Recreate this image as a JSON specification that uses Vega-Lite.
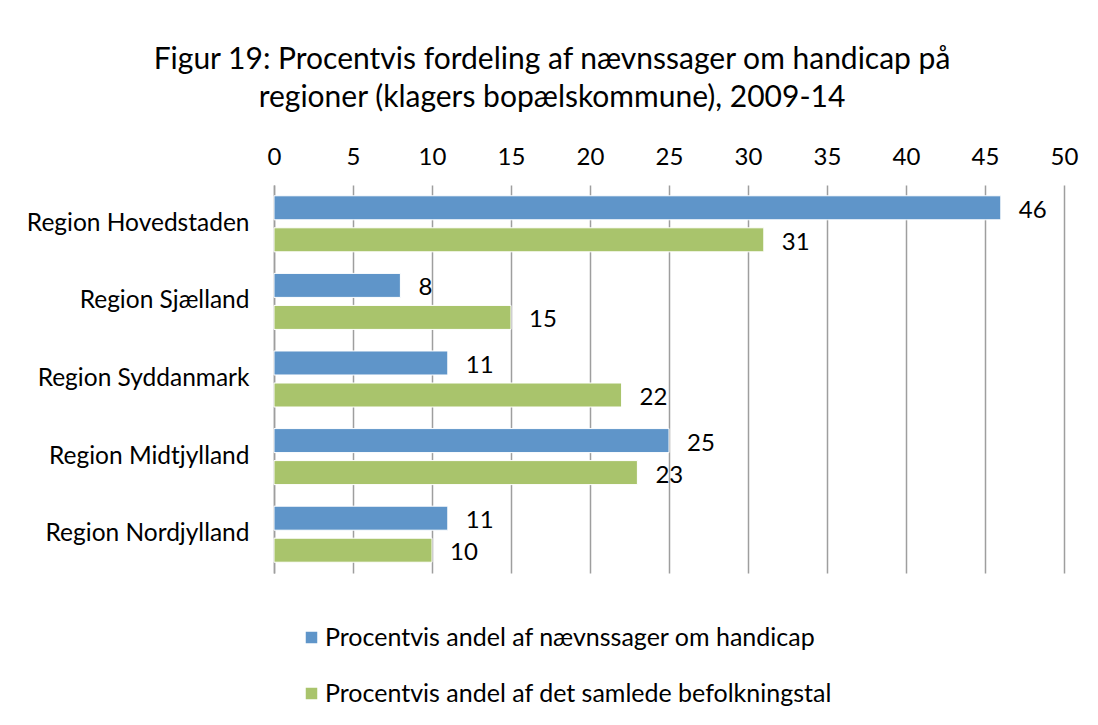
{
  "$schema": "https://vega.github.io/schema/vega-lite/v6.json",
  "autosize": "none",
  "width": 790,
  "height": 388,
  "padding": {"left": 274, "top": 185, "right": 34, "bottom": 152},
  "background": "white",
  "config": {
    "font": "Lato",
    "view": {"stroke": null},
    "axis": {"labelFont": "Lato", "labelColor": "#000000"},
    "legend": {"labelFont": "Lato"}
  },
  "title": {
    "text": ["Figur 19: Procentvis fordeling af nævnssager om handicap på", "regioner (klagers bopælskommune), 2009-14"],
    "font": "Lato",
    "fontSize": 30,
    "fontWeight": "normal",
    "color": "#000000",
    "lineHeight": 38,
    "anchor": "middle",
    "dx": -117,
    "offset": 32
  },
  "data": {
    "values": [
      {"region": "Region Hovedstaden", "serie": "Procentvis andel af nævnssager om handicap", "value": 46},
      {"region": "Region Hovedstaden", "serie": "Procentvis andel af det samlede befolkningstal", "value": 31},
      {"region": "Region Sjælland", "serie": "Procentvis andel af nævnssager om handicap", "value": 8},
      {"region": "Region Sjælland", "serie": "Procentvis andel af det samlede befolkningstal", "value": 15},
      {"region": "Region Syddanmark", "serie": "Procentvis andel af nævnssager om handicap", "value": 11},
      {"region": "Region Syddanmark", "serie": "Procentvis andel af det samlede befolkningstal", "value": 22},
      {"region": "Region Midtjylland", "serie": "Procentvis andel af nævnssager om handicap", "value": 25},
      {"region": "Region Midtjylland", "serie": "Procentvis andel af det samlede befolkningstal", "value": 23},
      {"region": "Region Nordjylland", "serie": "Procentvis andel af nævnssager om handicap", "value": 11},
      {"region": "Region Nordjylland", "serie": "Procentvis andel af det samlede befolkningstal", "value": 10}
    ]
  },
  "encoding": {
    "y": {
      "field": "region",
      "type": "nominal",
      "sort": null,
      "title": null,
      "scale": {"paddingInner": 0.278, "paddingOuter": 0.139},
      "axis": {
        "domain": true,
        "domainColor": "#9e9e9e",
        "domainWidth": 1.5,
        "ticks": false,
        "grid": false,
        "labelFontSize": 24.5,
        "labelPadding": 25,
        "labelLimit": 400
      }
    },
    "yOffset": {
      "field": "serie",
      "type": "nominal",
      "sort": ["Procentvis andel af nævnssager om handicap", "Procentvis andel af det samlede befolkningstal"],
      "scale": {"paddingInner": 0.25, "paddingOuter": 0}
    },
    "x": {
      "field": "value",
      "type": "quantitative",
      "title": null,
      "scale": {"domain": [0, 50], "nice": false},
      "axis": {
        "orient": "top",
        "values": [0, 5, 10, 15, 20, 25, 30, 35, 40, 45, 50],
        "domain": false,
        "ticks": false,
        "grid": true,
        "gridColor": "#9e9e9e",
        "gridWidth": 1.5,
        "labelFlush": false,
        "labelFontSize": 24,
        "labelPadding": 16
      }
    }
  },
  "layer": [
    {
      "mark": {"type": "bar", "stroke": "white", "strokeWidth": 1},
      "encoding": {
        "color": {
          "field": "serie",
          "type": "nominal",
          "sort": ["Procentvis andel af nævnssager om handicap", "Procentvis andel af det samlede befolkningstal"],
          "scale": {"range": ["#5f95c9", "#a9c46c"]},
          "legend": {
            "title": null,
            "orient": "none",
            "legendX": 25,
            "legendY": 440,
            "direction": "vertical",
            "symbolType": "square",
            "symbolSize": 132,
            "symbolStrokeWidth": 0,
            "labelFontSize": 25,
            "labelColor": "#000000",
            "labelOffset": 1,
            "rowPadding": 30,
            "labelLimit": 700
          }
        }
      }
    },
    {
      "mark": {"type": "text", "align": "left", "baseline": "middle", "dx": 18, "dy": 3, "fontSize": 24, "font": "Lato", "color": "#000000"},
      "encoding": {
        "text": {"field": "value", "type": "quantitative"}
      }
    }
  ]
}
